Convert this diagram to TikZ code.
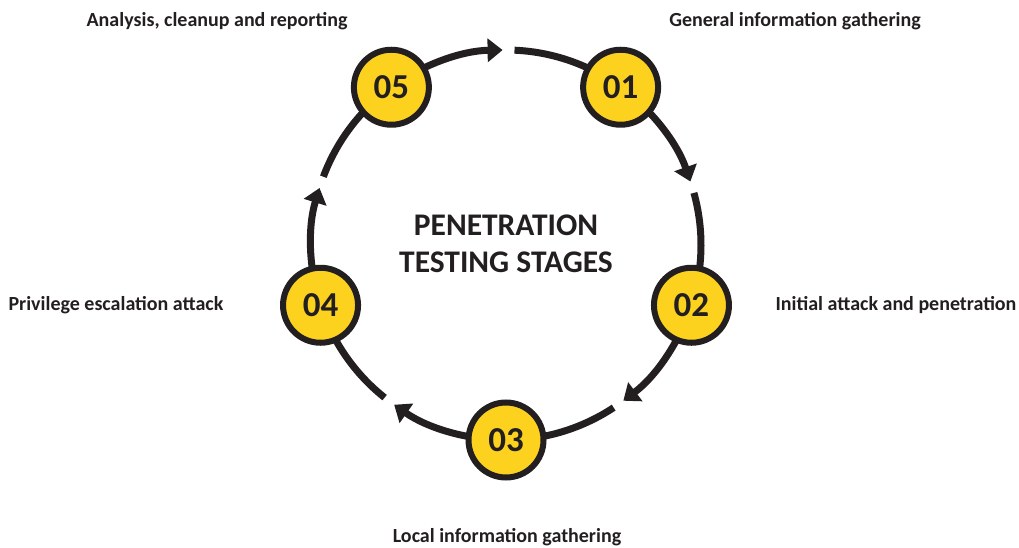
\documentclass[tikz,border=0pt]{standalone}
\usepackage{fontspec}
\setmainfont{Carlito}
\usepackage{xcolor}
\usetikzlibrary{arrows.meta,calc}

\definecolor{ringdark}{HTML}{231F20}
\definecolor{stageyellow}{HTML}{FCD21F}

\tikzset{
	stage/.style={circle, draw=ringdark, line width=6pt, fill=stageyellow,
		minimum size=75pt, inner sep=0pt, text=ringdark,
		font=\fontsize{35}{35}\selectfont\bfseries},
	ring/.style={draw=ringdark, line width=7pt},
	ringarrow/.style={ring, -{Triangle[length=15pt,width=23pt]}},
	stagelabel/.style={text=ringdark, font=\fontsize{20}{24}\selectfont\bfseries}
}

\begin{document}
\begin{tikzpicture}[x=1pt,y=1pt]
	\useasboundingbox (0,0) rectangle (1019,547);
	\coordinate (mid) at (506,302);
	% stage positions on the ring
	\coordinate (p05) at ($(mid)+(126:195)$);
	\coordinate (p01) at ($(mid)+(54:195)$);
	\coordinate (p02) at ($(mid)+(-18:195)$);
	\coordinate (p03) at ($(mid)+(-90:195)$);
	\coordinate (p04) at ($(mid)+(198:195)$);
	% restart points after each gap
	\coordinate (g01) at ($(mid)+(87.5:195)$);
	\coordinate (g02) at ($(mid)+(15.5:195)$);
	\coordinate (g03) at ($(mid)+(-56.5:195)$);
	\coordinate (g04) at ($(mid)+(-128.5:195)$);
	\coordinate (g05) at ($(mid)+(159.5:195)$);

	% ring segments
	\draw[ringarrow] (p05) arc[start angle=126, end angle=91, radius=195];
	\draw[ring] (g01) arc[start angle=87.5, end angle=54, radius=195];
	\draw[ringarrow] (p01) arc[start angle=54, end angle=19, radius=195];
	\draw[ring] (g02) arc[start angle=15.5, end angle=-18, radius=195];
	\draw[ringarrow] (p02) arc[start angle=-18, end angle=-53, radius=195];
	\draw[ring] (g03) arc[start angle=-56.5, end angle=-90, radius=195];
	\draw[ringarrow] (p03) arc[start angle=-90, end angle=-125, radius=195];
	\draw[ring] (g04) arc[start angle=-128.5, end angle=-162, radius=195];
	\draw[ringarrow] (p04) arc[start angle=198, end angle=163, radius=195];
	\draw[ring] (g05) arc[start angle=159.5, end angle=126, radius=195];

	% stages
	\node[stage] (s05) at (p05) {05};
	\node[stage] (s01) at (p01) {01};
	\node[stage] (s02) at (p02) {02};
	\node[stage] (s03) at (p03) {03};
	\node[stage] (s04) at (p04) {04};

	\node[text=ringdark, align=center, font=\fontsize{31.5}{37}\selectfont\bfseries] (title) at (506,303) {PENETRATION\\TESTING STAGES};

	\node[stagelabel] (l05) at (217,526) {Analysis, cleanup and reporting};
	\node[stagelabel] (l01) at (795,526) {General information gathering};
	\node[stagelabel] (l02) at (896,242) {Initial attack and penetration};
	\node[stagelabel] (l03) at (507,10) {Local information gathering};
	\node[stagelabel] (l04) at (116,242) {Privilege escalation attack};
\end{tikzpicture}
\end{document}
